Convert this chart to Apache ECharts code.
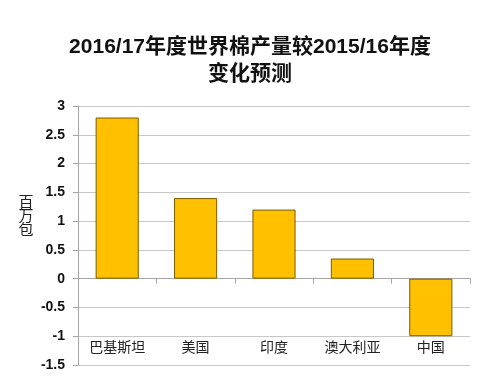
<!DOCTYPE html>
<html><head><meta charset="utf-8">
<script src="https://cdn.jsdelivr.net/npm/echarts@6/dist/echarts.min.js"></script>
<style>html,body{margin:0;padding:0;background:#fff}#c{width:500px;height:386px}</style>
</head><body><div id="c"></div>
<script>
const categories = ['巴基斯坦', '美国', '印度', '澳大利亚', '中国'];
const values = [2.8, 1.4, 1.2, 0.35, -1.0];
const titleText = '2016/17年度世界棉产量较2015/16年度\n变化预测';
const yUnit = '百\n万\n包';
const FONT = '"Liberation Sans", "Noto Sans CJK SC", sans-serif';

const chart = echarts.init(document.getElementById('c'));
chart.setOption({
  backgroundColor: '#fff',
  animation: false,
  title: {
    text: titleText, left: 'center', top: 29,
    textStyle: {fontFamily: FONT, fontSize: 21, fontWeight: 'bold', color: '#111', lineHeight: 27}
  },
  graphic: [{
    type: 'text', x: 26, y: 196,
    style: {text: yUnit, font: '15px ' + FONT, fill: '#222', lineHeight: 14, textAlign: 'center', textVerticalAlign: 'top'}
  }],
  grid: {left: 78, right: 30, top: 106, bottom: 21, containLabel: false, outerBoundsMode: 'none'},
  xAxis: {
    type: 'category', data: categories,
    axisLine: {onZero: true, lineStyle: {color: '#a6a6a6', width: 1}},
    axisTick: {show: true, length: 5, inside: false, lineStyle: {color: '#a6a6a6'}},
    axisLabel: {margin: -24, fontFamily: FONT, fontSize: 14, color: '#222'},
    splitLine: {show: false}
  },
  yAxis: {
    type: 'value', min: -1.5, max: 3, interval: 0.5,
    axisLine: {show: true, lineStyle: {color: '#a6a6a6'}},
    axisTick: {show: true, length: 5, lineStyle: {color: '#a6a6a6'}},
    axisLabel: {fontFamily: FONT, fontSize: 14, fontWeight: 'bold', color: '#111', margin: 13},
    splitLine: {show: true, lineStyle: {color: '#c8c8c8', width: 1}}
  },
  series: [{
    type: 'bar', data: values, barWidth: '55%',
    itemStyle: {color: '#FFC000', borderColor: '#7a5c00', borderWidth: 1}
  }]
});
</script></body></html>
